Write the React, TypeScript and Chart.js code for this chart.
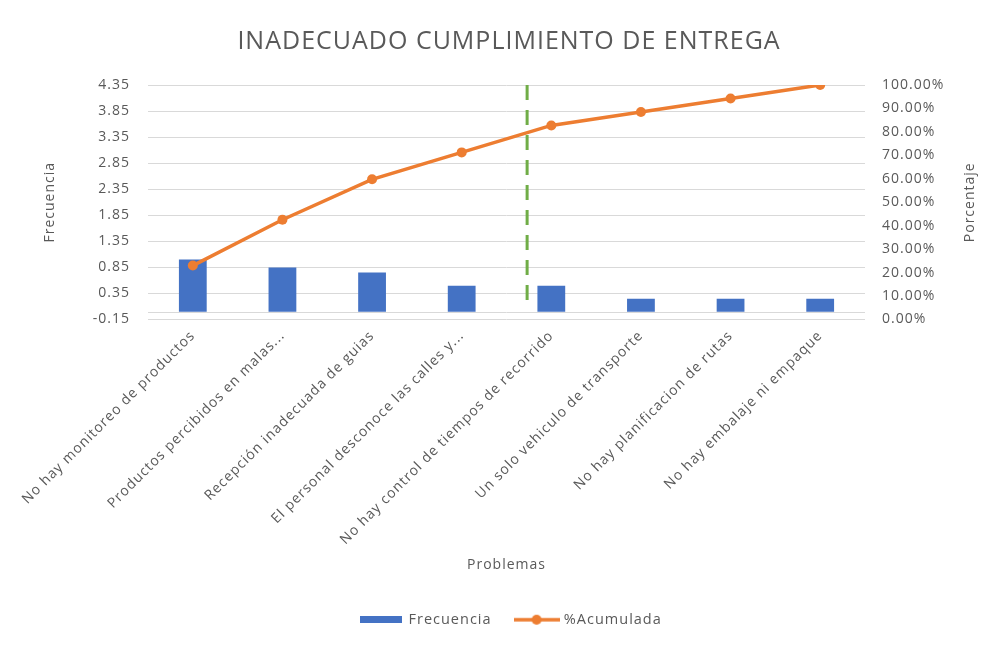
import React, { useEffect, useRef } from 'react';
import { Chart, registerables } from 'chart.js';

Chart.register(...registerables);

const chartTitle = 'INADECUADO CUMPLIMIENTO DE ENTREGA';
const categories = [
  'No hay monitoreo de productos',
  'Productos percibidos en malas...',
  'Recepción inadecuada de guias',
  'El personal desconoce las calles y...',
  'No hay control de tiempos de recorrido',
  'Un solo vehiculo de transporte',
  'No hay planificacion de rutas',
  'No hay embalaje ni empaque',
];
const frecuencia = [1.0, 0.85, 0.75, 0.5, 0.5, 0.25, 0.25, 0.25];
const acumulada = [0.2299, 0.4253, 0.5977, 0.7126, 0.8276, 0.8851, 0.9425, 1.0];
const leftTicks = [-0.15, 0.35, 0.85, 1.35, 1.85, 2.35, 2.85, 3.35, 3.85, 4.35];
const rightTicks = [0, 0.1, 0.2, 0.3, 0.4, 0.5, 0.6, 0.7, 0.8, 0.9, 1.0];
const cutLineX = [3.73, 3.73];
const cutLineY = [0.078, 1.0];

const TEXT = '#595959';
const FONT = '"Open Sans", sans-serif';
const BLUE = '#4472C4';
const ORANGE = '#ED7D31';
const GREEN = '#70AD47';

function makeBoxImg() {
  const c = document.createElement('canvas');
  c.width = 42; c.height = 7;
  const g = c.getContext('2d')!;
  g.fillStyle = BLUE;
  g.fillRect(0, 0, 42, 7);
  return c;
}
function makeLineImg() {
  const c = document.createElement('canvas');
  c.width = 46; c.height = 12;
  const g = c.getContext('2d')!;
  g.strokeStyle = ORANGE; g.lineWidth = 3.5;
  g.beginPath(); g.moveTo(0, 6); g.lineTo(46, 6); g.stroke();
  g.fillStyle = ORANGE;
  g.beginPath(); g.arc(23, 6, 5, 0, Math.PI * 2); g.fill();
  return c;
}

const spacingPlugin = {
  id: 'spacing',
  beforeUpdate(c: any) { c.ctx.letterSpacing = '1px'; },
  beforeLayout(c: any) { c.ctx.letterSpacing = '1px'; },
  beforeDraw(c: any) { c.ctx.letterSpacing = '1px'; },
};

const extrasPlugin = {
  id: 'extras',
  beforeDatasetsDraw(c: any) {
    const { ctx, chartArea, scales } = c;
    const y0 = Math.round(scales.y.getPixelForValue(0)) + 0.5;
    ctx.save();
    ctx.strokeStyle = '#D9D9D9';
    ctx.lineWidth = 1;
    ctx.beginPath();
    ctx.moveTo(chartArea.left, y0);
    ctx.lineTo(chartArea.right, y0);
    ctx.stroke();
    ctx.strokeStyle = GREEN;
    ctx.lineWidth = 3;
    ctx.setLineDash([15, 10]);
    ctx.beginPath();
    ctx.moveTo(scales.x.getPixelForValue(cutLineX[1]), scales.y1.getPixelForValue(cutLineY[1]));
    ctx.lineTo(scales.x.getPixelForValue(cutLineX[0]), scales.y1.getPixelForValue(cutLineY[0]));
    ctx.stroke();
    ctx.restore();
  },
  afterDraw(c: any) {
    const { ctx, chartArea } = c;
    ctx.save();
    ctx.letterSpacing = '1px';
    ctx.fillStyle = TEXT;
    ctx.textAlign = 'center';
    ctx.textBaseline = 'middle';
    ctx.font = '25px ' + FONT;
    ctx.fillText(chartTitle, 509, 42);
    ctx.font = '14px ' + FONT;
    ctx.translate(970, (chartArea.top + chartArea.bottom) / 2);
    ctx.rotate(-Math.PI / 2);
    ctx.fillText('Porcentaje', 0, 0);
    ctx.restore();
  },
};

export default function App() {
  const ref = useRef<HTMLCanvasElement>(null);
  useEffect(() => {
    const boxImg = makeBoxImg();
    const lineImg = makeLineImg();
    const chart = new Chart(ref.current!, {
      type: 'bar',
      data: {
        labels: categories,
        datasets: [
          {
            type: 'bar',
            label: 'Frecuencia',
            data: frecuencia,
            backgroundColor: BLUE,
            yAxisID: 'y',
            barPercentage: 0.31,
            categoryPercentage: 1,
            order: 2,
          },
          {
            type: 'line',
            label: '%Acumulada',
            data: acumulada,
            borderColor: ORANGE,
            backgroundColor: ORANGE,
            borderWidth: 3.5,
            pointRadius: 5,
            pointBackgroundColor: ORANGE,
            pointBorderWidth: 0,
            yAxisID: 'y1',
            order: 1,
          },
        ] as any,
      },
      options: {
        animation: false,
        responsive: false,
        devicePixelRatio: 1,
        layout: { padding: { top: 85, bottom: 8, left: 18, right: 0 } },
        font: { family: FONT },
        plugins: {
          title: { display: false },
          tooltip: { enabled: false },
          legend: {
            display: true,
            position: 'bottom',
            labels: {
              usePointStyle: true,
              pointStyleWidth: 40,
              padding: 25,
              color: TEXT,
              font: { family: FONT, size: 14.5 },
              generateLabels: () => [
                { text: 'Frecuencia', pointStyle: boxImg, fillStyle: BLUE, strokeStyle: BLUE, lineWidth: 0, hidden: false, datasetIndex: 0, fontColor: TEXT },
                { text: '%Acumulada', pointStyle: lineImg, fillStyle: ORANGE, strokeStyle: ORANGE, lineWidth: 0, hidden: false, datasetIndex: 1, fontColor: TEXT },
              ] as any,
            },
          },
        },
        scales: {
          x: {
            grid: { display: false, drawTicks: false },
            border: { display: false },
            ticks: {
              autoSkip: false,
              minRotation: 45,
              maxRotation: 45,
              padding: 8,
              color: TEXT,
              font: { family: FONT, size: 14 },
            },
            title: {
              display: true,
              text: 'Problemas',
              color: TEXT,
              font: { family: FONT, size: 14 },
              padding: { top: 0, bottom: 13.6 },
            },
            afterFit: (s: any) => { s.height = 268; },
          },
          y: {
            position: 'left',
            min: leftTicks[0],
            max: leftTicks[leftTicks.length - 1],
            afterBuildTicks: (s: any) => { s.ticks = leftTicks.map((v) => ({ value: v })); },
            grid: { color: '#D9D9D9', drawTicks: false, lineWidth: 1 },
            border: { display: false },
            ticks: {
              padding: 18,
              color: TEXT,
              font: { family: FONT, size: 14 },
              callback: (v: any) => Number(v).toFixed(2),
            },
            title: {
              display: true,
              text: 'Frecuencia',
              color: TEXT,
              font: { family: FONT, size: 14 },
              padding: { top: 23.6, bottom: 0 },
            },
            afterFit: (s: any) => { s.width = 130; },
          },
          y1: {
            position: 'right',
            min: rightTicks[0],
            max: rightTicks[rightTicks.length - 1],
            afterBuildTicks: (s: any) => { s.ticks = rightTicks.map((v) => ({ value: v })); },
            grid: { display: false, drawTicks: false },
            border: { display: false },
            ticks: {
              padding: 17,
              color: TEXT,
              font: { family: FONT, size: 14 },
              callback: (v: any) => (Number(v) * 100).toFixed(2) + '%',
            },
            afterFit: (s: any) => { s.width = 140; },
          },
        },
      } as any,
      plugins: [spacingPlugin, extrasPlugin],
    });
    return () => chart.destroy();
  }, []);
  return (
    <div style={{ position: 'fixed', left: 0, top: 0, width: 1005, height: 645, background: '#fff' }}>
      <canvas ref={ref} width={1005} height={645} style={{ display: 'block', width: 1005, height: 645 }} />
    </div>
  );
}
